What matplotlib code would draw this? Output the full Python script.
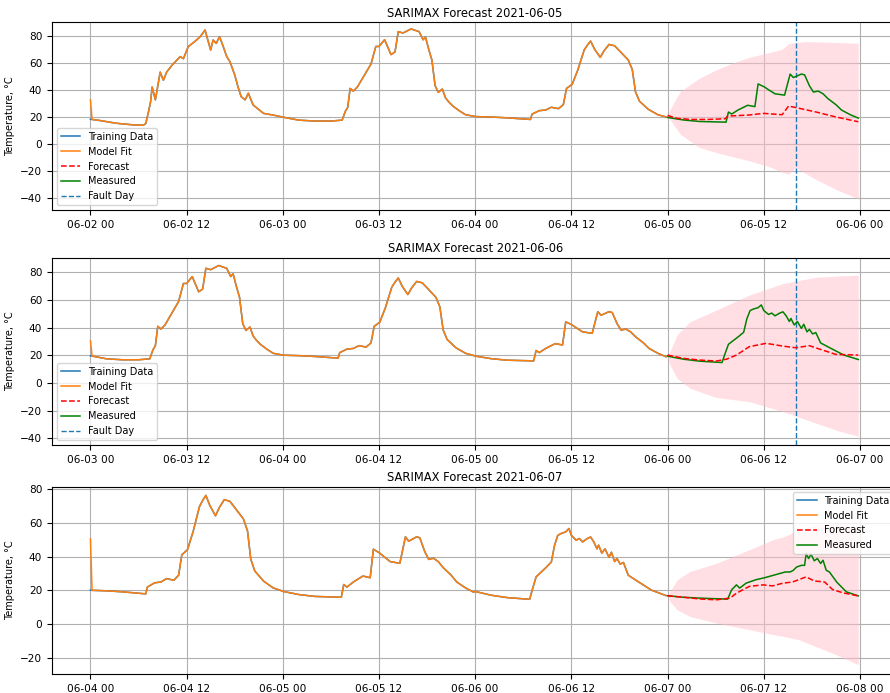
import numpy as np
import pandas as pd
import matplotlib
matplotlib.use("Agg")
import matplotlib.pyplot as plt
import matplotlib.dates as mdates

# ---------------- data (hours within a day, temperature in °C) ----------------
h_0602 = [0, 0.2, 1.2, 3.2, 5.3, 6.6, 6.9, 7.2, 7.5, 7.7, 8.1, 8.7, 9.1, 9.5, 10.2, 10.6, 11.2, 11.6,
          12.2, 13.0, 13.7, 14.3, 14.7, 15.0, 15.3, 15.7, 16.1, 16.5, 17.0, 17.4, 18.0, 18.4, 18.8,
          19.3, 19.7, 20.3, 21.6, 23.0, 23.8]
v_0602 = [18.2, 18.0, 17.2, 15.2, 14.0, 13.7, 15, 22.5, 31, 42, 32.5, 53, 47, 53, 58.3, 60.8, 64.5, 63,
          71.9, 75.6, 79.3, 84.2, 75.6, 69.4, 76.8, 74.3, 79.3, 73.1, 64.5, 60.8, 51, 42.3, 34.9,
          32.5, 37.4, 28.7, 22.5, 21.0, 20.0]

h_0603 = [0, 0.2, 2, 4, 6, 7.4, 7.8, 8.1, 8.4, 8.8, 9.3, 10.1, 11.0, 11.6, 12.0, 12.7, 13.5, 14.0,
          14.4, 15.0, 16.0, 17.0, 17.5, 17.8, 18.2, 18.6, 19.0, 19.4, 19.9, 20.3, 20.7, 21.2, 22.0, 22.8,
          23.8]
v_0603 = [19.7, 19.5, 17.5, 16.8, 16.8, 17.5, 24, 27, 41, 39, 42, 50, 59, 72, 72, 77, 66, 68,
          83, 82, 85, 83, 77, 79, 70, 62, 43, 38, 40.5, 34, 31, 28, 24.5, 21.5,
          20.4]

h_0604 = [0, 0.2, 2, 4, 6.9, 7.1, 8.0, 8.8, 9.5, 10.4, 11.0, 11.4, 12.1, 12.8, 13.6, 14.0, 14.4,
          14.9, 15.6, 16.1, 16.7, 17.4, 18.3, 19.1, 19.6, 20.0, 20.5, 21.6, 22.8, 23.8]
v_0604 = [20.2, 20.1, 19.8, 19.2, 18.0, 22, 24.5, 25, 27, 26, 29, 41, 44, 54.5, 69.4, 73, 76,
          70, 64, 69, 73.5, 72.5, 67, 62, 55, 38.5, 31.5, 25.5, 21.5, 19.9]

h_0605 = [0, 0.2, 2, 4, 7.3, 7.6, 8.0, 8.8, 10.0, 10.9, 11.3, 12.1, 12.6, 13.4, 14.6, 15.3, 15.7,
          16.7, 17.1, 17.7, 18.2, 18.8, 19.4, 20.0, 21.0, 21.7, 22.8, 23.8]
v_0605 = [19.5, 19.3, 17.6, 16.5, 16.0, 23.5, 22, 25, 28.5, 27.5, 44.3, 42, 40, 37, 36, 51.6, 49,
          51.6, 51, 43, 38.3, 39, 37, 33.5, 29, 25, 21.5, 19.0]

h_0606 = [0, 0.2, 2, 4, 6.8, 7.1, 7.6, 8.5, 8.9, 9.5, 9.9, 10.3, 10.7, 11.3, 11.7, 12.0, 12.6,
          13.0, 13.4, 14.0, 14.4, 14.8, 15.2, 15.4, 15.8, 16.2, 16.7, 17.0, 17.4, 17.7, 18.1, 18.5,
          19.1, 20.4, 22.0, 23.8]
v_0606 = [19.5, 19.2, 17.2, 15.8, 14.8, 20, 28, 32, 33.8, 36.7, 46.5, 52.4, 53.5, 54.5, 56.5, 52.5, 49.6,
          50.6, 48.6, 50.6, 51.5, 48.6, 44.5, 46.7, 42.0, 44.5, 39.5, 42.5, 37.0, 38.8, 35.5, 36.5,
          29, 25, 20.2, 17.0]

h_0607 = [0, 0.2, 2, 4, 7.5, 8.0, 8.6, 9.0, 9.8, 11.0, 12.1, 13.1, 14.0, 14.7, 15.3, 15.7, 16.1,
          16.7, 17.1, 17.3, 17.6, 17.9, 18.3, 18.7, 19.1, 19.4, 19.8, 20.2, 21.1, 22.3, 23.8]
v_0607 = [16.9, 16.8, 16.0, 15.5, 14.9, 20.4, 23.3, 21.4, 24.3, 26.3, 27.5, 28.8, 30, 30.9, 30.9, 31.9, 33.8,
          34.8, 34.8, 41.8, 38.8, 41.4, 37.5, 38.8, 35.9, 37.8, 31.9, 30.9, 25, 19.2, 16.8]

# first (poorly fitted) value of each model fit
fit_start = [32.5, 30.4, 50.4]

# forecasts
fc1_h = [0, 1.2, 3, 5, 7.2, 7.5, 10.2, 12, 14.3, 15.1, 16, 18.4, 20.9, 23.8]
fc1_v = [21, 18.8, 18, 18, 18.5, 20.5, 21.3, 22.5, 21.5, 27.9, 26.8, 23.7, 20, 16.3]
fc2_h = [0, 2, 4, 6.1, 7.4, 8.6, 10.2, 12.3, 14.4, 16, 17.7, 19.3, 21, 23.8]
fc2_v = [20.2, 17.8, 16.6, 15.9, 17.3, 20.2, 26.3, 28.7, 26.7, 25.5, 27, 23.9, 20.7, 20.2]
fc3_h = [0, 2, 4, 6.1, 7.8, 8.6, 10.2, 11.9, 13.1, 14.4, 15.6, 17.3, 18.3, 19.6, 20.6, 21.9, 23.8]
fc3_v = [16.9, 16, 15, 14.5, 15.5, 18.4, 22.4, 23.3, 22.7, 24.3, 25, 28, 25.6, 25, 20.5, 18.6, 16.8]

# confidence bands
b1_h = [0, 0.3, 1.6, 4, 6.1, 8.1, 10.2, 12.7, 14.3, 15.1, 16, 17.2, 18.4, 20.9, 23.8]
b1_hi = [21, 25.3, 38.8, 48.6, 54.8, 59.7, 64, 67.5, 70, 74, 75, 75.6, 75.5, 75, 74.4]
b1_lo = [21, 18, 7, -2.8, -6.5, -9.5, -12.6, -17, -21, -22.5, -17.5, -22, -26, -33.5, -40.8]
b2_h = [0, 0.3, 1.2, 2.8, 6.1, 10.2, 14.4, 18.5, 21.5, 23.8]
b2_hi = [20.2, 22.7, 35, 44.3, 52.8, 63.6, 72, 76.5, 77.5, 78]
b2_lo = [20.2, 13, 3.4, -3.9, -10.5, -13.5, -20.7, -29, -35, -38.5]
b3_h = [0, 0.3, 1.2, 2.8, 6.1, 10.2, 13.2, 14.4, 16.4, 18.5, 21, 23.8]
b3_hi = [16.9, 19.4, 26.3, 31.2, 36, 44, 50, 51.5, 55.7, 58.6, 59.6, 55.7]
b3_lo = [16.9, 13.5, 8.6, 4.7, 0.8, -3.1, -6, -7, -9, -13, -17.8, -23.7]

titles = ["SARIMAX Forecast 2021-06-05", "SARIMAX Forecast 2021-06-06", "SARIMAX Forecast 2021-06-07"]
fault_times = ["2021-06-05 16:00", "2021-06-06 16:00", None]
ylims = [(-49, 90), (-44.8, 90.6), (-29.2, 81)]

day_names = ["2021-06-02", "2021-06-03", "2021-06-04", "2021-06-05", "2021-06-06", "2021-06-07"]
day_h = [h_0602, h_0603, h_0604, h_0605, h_0606, h_0607]
day_v = [v_0602, v_0603, v_0604, v_0605, v_0606, v_0607]
fcs = [(fc1_h, fc1_v), (fc2_h, fc2_v), (fc3_h, fc3_v)]
bands = [(b1_h, b1_lo, b1_hi), (b2_h, b2_lo, b2_hi), (b3_h, b3_lo, b3_hi)]


def to_times(day, hours):
    return pd.Timestamp(day) + pd.to_timedelta(np.asarray(hours, dtype=float), unit="h")


fig = plt.figure(figsize=(8.9, 6.93), dpi=100)
positions = [[0.0584, 0.697, 0.951, 0.271],
             [0.0584, 0.358, 0.951, 0.270],
             [0.0584, 0.0274, 0.951, 0.270]]

for i in range(3):
    ax = fig.add_axes(positions[i])
    t_train = np.concatenate([to_times(day_names[k], day_h[k]) for k in range(i, i + 3)])
    v_train = np.concatenate([day_v[k] for k in range(i, i + 3)])
    v_fit = v_train.copy()
    v_fit[0] = fit_start[i]
    md = day_names[i + 3]
    t_meas = to_times(md, day_h[i + 3])
    v_meas = day_v[i + 3]
    fh, fv = fcs[i]
    bh, blo, bhi = bands[i]

    ax.grid(True, color="#b0b0b0", linewidth=0.8)
    ax.set_axisbelow(True)
    ax.fill_between(to_times(md, bh), blo, bhi, color="pink", alpha=0.5, linewidth=0, zorder=1)
    l1, = ax.plot(t_train, v_train, color="C0", lw=1.1, label="Training Data", zorder=2)
    l2, = ax.plot(t_train, v_fit, color="C1", lw=1.1, label="Model Fit", zorder=3)
    l4, = ax.plot(t_meas, v_meas, color="g", lw=1.1, label="Measured", zorder=3)
    l3, = ax.plot(to_times(md, fh), fv, color="r", ls="--", lw=1.1, label="Forecast", zorder=4)
    handles = [l1, l2, l3, l4]
    if fault_times[i] is not None:
        l5 = ax.axvline(pd.Timestamp(fault_times[i]), color="C0", ls="--", lw=1.0, label="Fault Day")
        handles.append(l5)

    start = pd.Timestamp(day_names[i])
    ax.set_xlim(start - pd.Timedelta(hours=4.8), start + pd.Timedelta(hours=96 + 4.8))
    ax.set_ylim(*ylims[i])
    ax.xaxis.set_major_locator(mdates.HourLocator(byhour=[0, 12]))
    ax.xaxis.set_major_formatter(mdates.DateFormatter("%m-%d %H"))
    ax.tick_params(labelsize=7.6)
    ax.set_ylabel("Temperature, °C", fontsize=7)
    ax.set_title(titles[i], fontsize=8.3, pad=4)
    loc = "lower left" if i < 2 else "upper right"
    ax.legend(handles=handles, loc=loc, fontsize=7, handlelength=2.0,
              labelspacing=0.5, borderpad=0.4)

fig.savefig("out.png", dpi=100)
